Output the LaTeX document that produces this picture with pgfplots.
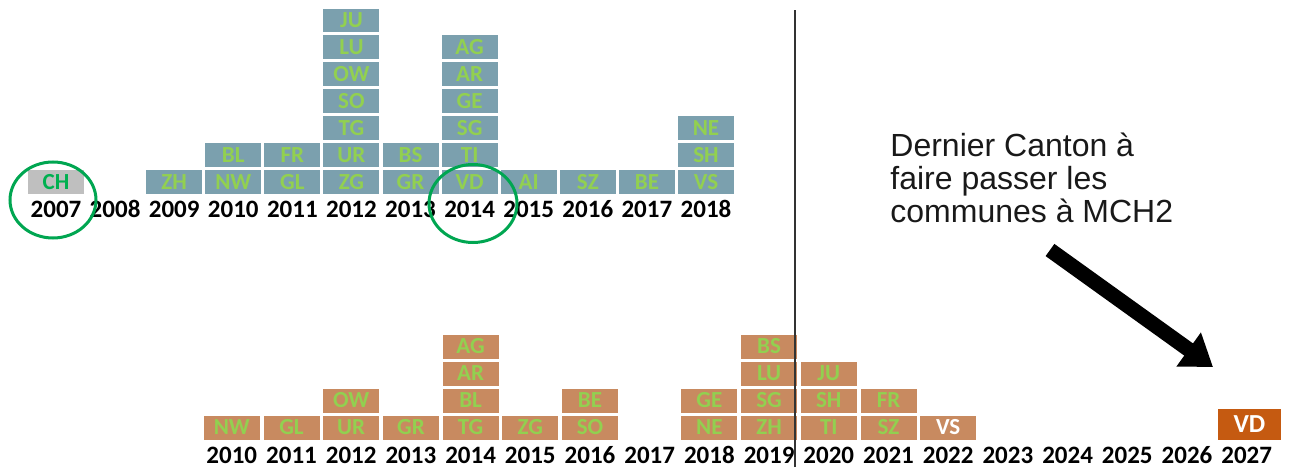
\documentclass[border=0pt]{standalone}
\usepackage{fontspec}
\setmainfont{Carlito}
\newfontfamily\arialfont{Liberation Sans}
\usepackage{pgfplots}
\usepackage{pgfplotstable}
\pgfplotsset{compat=1.18}
\usetikzlibrary{arrows.meta}

\definecolor{topbox}{RGB}{123,160,174}
\definecolor{botbox}{RGB}{200,138,96}
\definecolor{vdbox}{RGB}{197,90,17}
\definecolor{cellgreen}{RGB}{146,208,80}
\definecolor{chgreen}{RGB}{0,176,80}
\definecolor{circgreen}{RGB}{0,166,81}
\definecolor{chgrey}{RGB}{191,191,191}

\pgfplotstableread{
year level name
2009 1 ZH
2010 1 NW
2010 2 BL
2011 1 GL
2011 2 FR
2012 1 ZG
2012 2 UR
2012 3 TG
2012 4 SO
2012 5 OW
2012 6 LU
2012 7 JU
2013 1 GR
2013 2 BS
2014 1 VD
2014 2 TI
2014 3 SG
2014 4 GE
2014 5 AR
2014 6 AG
2015 1 AI
2016 1 SZ
2017 1 BE
2018 1 VS
2018 2 SH
2018 3 NE
}\toptable

\pgfplotstableread{
year level name
2010 1 NW
2011 1 GL
2012 1 UR
2012 2 OW
2013 1 GR
2014 1 TG
2014 2 BL
2014 3 AR
2014 4 AG
2015 1 ZG
2016 1 SO
2016 2 BE
2018 1 NE
2018 2 GE
2019 1 ZH
2019 2 SG
2019 3 LU
2019 4 BS
2020 1 TI
2020 2 SH
2020 3 JU
2021 1 SZ
2021 2 FR
}\bottable

\pgfplotstableread{
year level name
2007 1 CH
}\chtable

\pgfplotstableread{
year level name
2022 1 VS
}\vstable

\pgfplotstableread{
year level name
2027 1 VD
}\vdtable

\tikzset{
  boxA/.style={/tikz/anchor=center, /tikz/inner sep=0pt, /tikz/minimum width=28pt,
    /tikz/minimum height=12pt, /tikz/font=\fontsize{11.5}{11.5}\selectfont\bfseries},
}

\pgfplotsset{
  cellaxis/.style={scale only axis, clip=false, anchor=south west,
    axis line style={draw=none}, major tick length=0pt, ytick=\empty,
    xticklabel style={/tikz/anchor=base, /tikz/font=\fontsize{12.5}{12.5}\selectfont\bfseries}},
}

\begin{document}
\begin{tikzpicture}
\useasboundingbox (0,0) rectangle (645.5pt,233.5pt);
\begin{scope}
\clip (0,0) rectangle (645.5pt,228.5pt);
% top: introduction of MCH2 by cantons
\begin{axis}[cellaxis, at={(13.225pt,135.75pt)}, width=354.55pt, height=94.5pt,
  xmin=2006.5, xmax=2018.5, ymin=0.5, ymax=7.5,
  xtick={2007,2008,2009,2010,2011,2012,2013,2014,2015,2016,2017,2018},
  xticklabels={2007,2008,2009,2010,2011,2012,2013,2014,2015,2016,2017,2018},
  xticklabel style={yshift=-11.25pt}]
\addplot[draw=none, mark=none, nodes near coords, point meta=explicit symbolic,
  every node near coord/.style={boxA, /tikz/fill=topbox, /tikz/text=cellgreen}]
  table[x=year,y=level,meta=name]{\toptable};
\addplot[draw=none, mark=none, nodes near coords, point meta=explicit symbolic,
  every node near coord/.style={boxA, /tikz/fill=chgrey, /tikz/text=chgreen}]
  table[x=year,y=level,meta=name]{\chtable};
\end{axis}
% bottom: communes
\begin{axis}[cellaxis, at={(100.975pt,13pt)}, width=537.3pt, height=54pt,
  xmin=2009.5, xmax=2027.5, ymin=0.5, ymax=4.5,
  xtick={2010,2011,2012,2013,2014,2015,2016,2017,2018,2019,2020,2021,2022,2023,2024,2025,2026,2027},
  xticklabels={2010,2011,2012,2013,2014,2015,2016,2017,2018,2019,2020,2021,2022,2023,2024,2025,2026,2027},
  xticklabel style={yshift=-11pt}]
\addplot[draw=none, mark=none, nodes near coords, point meta=explicit symbolic,
  every node near coord/.style={boxA, /tikz/fill=botbox, /tikz/text=cellgreen}]
  table[x=year,y=level,meta=name]{\bottable};
\addplot[draw=none, mark=none, nodes near coords, point meta=explicit symbolic,
  every node near coord/.style={boxA, /tikz/fill=botbox, /tikz/text=white}]
  table[x=year,y=level,meta=name]{\vstable};
\addplot[draw=none, mark=none, nodes near coords, point meta=explicit symbolic,
  every node near coord/.style={boxA, /tikz/fill=vdbox, /tikz/text=white,
    /tikz/minimum width=31.5pt, /tikz/minimum height=15.5pt,
    /tikz/xshift=1.4pt, /tikz/yshift=1.5pt, /tikz/font=\fontsize{13}{13}\selectfont\bfseries}]
  table[x=year,y=level,meta=name]{\vdtable};
\end{axis}
\draw[line width=1pt, color=black!80] (397.5pt,0) -- (397.5pt,228.5pt);
\end{scope}
\draw[circgreen, line width=1.5pt] (26.5pt,133.5pt) ellipse (21.5pt and 19pt);
\draw[circgreen, line width=1.5pt] (236.5pt,131.75pt) ellipse (22pt and 19.5pt);
\node[anchor=north west, inner sep=0pt, align=left, font=\arialfont\fontsize{16}{16.5}\selectfont, text=black!90]
  at (445pt,167pt) {Dernier Canton à\\faire passer les\\communes à MCH2};
\draw[line width=7.5pt, -{Triangle[length=15pt,width=20pt]}] (525pt,108.5pt) -- (606.5pt,50pt);
\end{tikzpicture}
\end{document}
